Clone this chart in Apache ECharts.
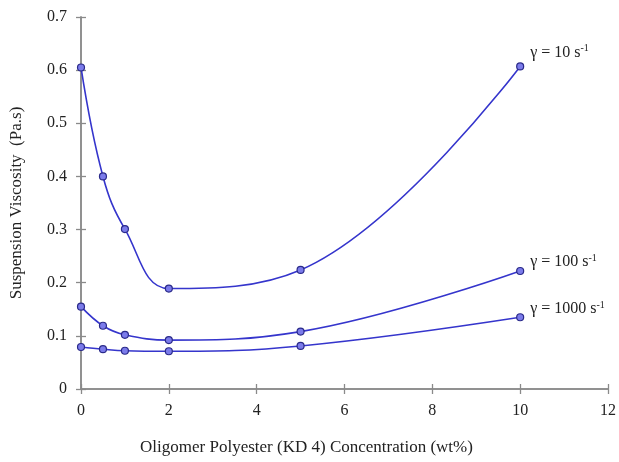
<!DOCTYPE html>
<html><head><meta charset="utf-8">
<script src="https://cdn.jsdelivr.net/npm/echarts@6/dist/echarts.min.js"></script>
<style>html,body{margin:0;padding:0;background:#fff}#c{width:619px;height:462px}</style>
</head><body><div id="c"></div>
<script>
const conc = [0, 0.5, 1, 2, 5, 10];
const visc10 = [0.605, 0.400, 0.301, 0.189, 0.224, 0.607];
const visc100 = [0.155, 0.119, 0.102, 0.092, 0.108, 0.222];
const visc1000 = [0.079, 0.075, 0.072, 0.071, 0.081, 0.135];
const seriesLabels = ['10', '100', '1000'];
const xTicks = [0, 2, 4, 6, 8, 10, 12];
const yTicks = [0, 0.1, 0.2, 0.3, 0.4, 0.5, 0.6, 0.7];

const FONT = 'Liberation Serif';
const LINE = '#3535cc';
const AXIS = '#8a8a8a';
const chart = echarts.init(document.getElementById('c'));
function mk(vals, lbl, off) {
  return {
    type: 'line', xAxisIndex: 0, yAxisIndex: 0,
    data: conc.map((x, i) => [x, vals[i]]),
    smooth: 0.4,
    symbol: 'circle', symbolSize: 7,
    lineStyle: { color: LINE, width: 1.6 },
    itemStyle: { color: '#7b7bea', borderColor: '#2a2a8a', borderWidth: 1.2 },
    endLabel: {
      show: true, offset: off,
      formatter: () => '{a|γ = ' + lbl + ' s}{b|-1}',
      rich: {
        a: { fontFamily: FONT, fontSize: 16, color: '#222' },
        b: { fontFamily: FONT, fontSize: 10, color: '#222', verticalAlign: 'top', padding: [0, 0, 8, 0] }
      }
    },
    z: 3
  };
}
const axLabel = { fontFamily: FONT, fontSize: 16, color: '#222' };
chart.setOption({
  animation: false,
  grid: { left: 80, right: 11, top: 17, bottom: 73 },
  xAxis: [
    { type: 'value', min: 0, max: 12, interval: 2, position: 'bottom',
      axisLine: { show: true, lineStyle: { color: AXIS, width: 1.5 } },
      axisTick: { show: true, length: 5, lineStyle: { color: AXIS, width: 1.3 } },
      axisLabel: Object.assign({ margin: 14, formatter: v => xTicks.includes(v) ? String(v) : '' }, axLabel),
      splitLine: { show: false },
      name: 'Oligomer Polyester (KD 4) Concentration (wt%)', nameLocation: 'middle', nameGap: 50,
      nameTextStyle: { fontFamily: FONT, fontSize: 17, color: '#222', padding: [0, 76, 0, 0] } },
    { type: 'value', min: 0, max: 12, interval: 2, position: 'bottom',
      axisLine: { show: false }, axisLabel: { show: false }, splitLine: { show: false },
      axisTick: { show: true, inside: true, length: 5, lineStyle: { color: AXIS, width: 1.3 } } },
    { type: 'value', min: 0, max: 12, position: 'top',
      axisLine: { show: true, lineStyle: { color: AXIS, width: 1.5 } },
      axisTick: { show: false }, axisLabel: { show: false }, splitLine: { show: false } }
  ],
  yAxis: [
    { type: 'value', min: 0, max: 0.7, interval: 0.1, position: 'left',
      axisLine: { show: true, lineStyle: { color: AXIS, width: 1.5 } },
      axisTick: { show: true, length: 5, lineStyle: { color: AXIS, width: 1.3 } },
      axisLabel: Object.assign({ margin: 14, formatter: v => { const t = yTicks.find(y => Math.abs(y - v) < 1e-9); return t === undefined ? '' : (t === 0 ? '0' : t.toFixed(1)); } }, axLabel),
      splitLine: { show: false },
      name: 'Suspension Viscosity  (Pa.s)', nameLocation: 'middle', nameGap: 56,
      nameTextStyle: { fontFamily: FONT, fontSize: 17, color: '#222' } },
    { type: 'value', min: 0, max: 0.7, interval: 0.1, position: 'left',
      axisLine: { show: false }, axisLabel: { show: false }, splitLine: { show: false },
      axisTick: { show: true, inside: true, length: 5, lineStyle: { color: AXIS, width: 1.3 } } },
    { type: 'value', min: 0, max: 0.7, position: 'right',
      axisLine: { show: true, lineStyle: { color: AXIS, width: 1.5 } },
      axisTick: { show: false }, axisLabel: { show: false }, splitLine: { show: false } }
  ],
  series: [
    mk(visc10, seriesLabels[0], [2, -14]),
    mk(visc100, seriesLabels[1], [2, -9]),
    mk(visc1000, seriesLabels[2], [2, -8])
  ]
});
</script></body></html>
